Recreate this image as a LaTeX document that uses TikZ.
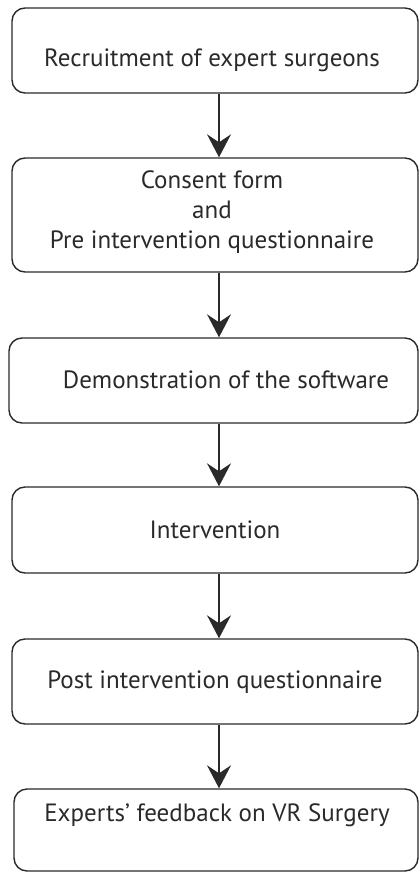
\documentclass[tikz,border=0pt]{standalone}
\usepackage{fontspec}
\setmainfont{PT Sans}
\usetikzlibrary{arrows.meta}
\definecolor{ink}{HTML}{2A2A2A}
\begin{document}
\begin{tikzpicture}[x=1pt,y=-1pt,
  stepbox/.style={draw=ink, line width=1.4pt, rounded corners=13pt, inner sep=0pt},
  label text/.style={text=ink, font=\fontsize{25}{30}\selectfont, align=center, inner sep=0pt},
  flow/.style={draw=ink, line width=1.6pt, -{Stealth[length=23pt,width=24pt,inset=8pt]}}]
\useasboundingbox (0,0) rectangle (419,872);
\node[stepbox, minimum width=406pt, minimum height=85pt] (b1) at (215,50.5) {};
\node[stepbox, minimum width=406pt, minimum height=114pt] (b2) at (215,215) {};
\node[stepbox, minimum width=409pt, minimum height=85pt] (b3) at (213.5,380.5) {};
\node[stepbox, minimum width=406pt, minimum height=86pt] (b4) at (215,530) {};
\node[stepbox, minimum width=406pt, minimum height=85pt] (b5) at (215,681.5) {};
\node[stepbox, minimum width=404pt, minimum height=82pt] (b6) at (216,830) {};
\node[label text] (t1) at (212,60) {Recruitment of expert surgeons};
\node[label text] (t2) at (212,212) {Consent form\\and\\Pre intervention questionnaire};
\node[label text] (t3) at (226,380) {Demonstration of the software};
\node[label text] (t4) at (215,530) {Intervention};
\node[label text] (t5) at (215,682) {Post intervention questionnaire};
\node[label text] (t6) at (217,815) {Experts’ feedback on VR Surgery};
\coordinate (ax) at (219,0);
\draw[flow] (b1.south -| ax) -- (b2.north -| ax);
\draw[flow] (b2.south -| ax) -- (b3.north -| ax);
\draw[flow] (b3.south -| ax) -- (b4.north -| ax);
\draw[flow] (b4.south -| ax) -- (b5.north -| ax);
\draw[flow] (b5.south -| ax) -- (b6.north -| ax);
\end{tikzpicture}
\end{document}
